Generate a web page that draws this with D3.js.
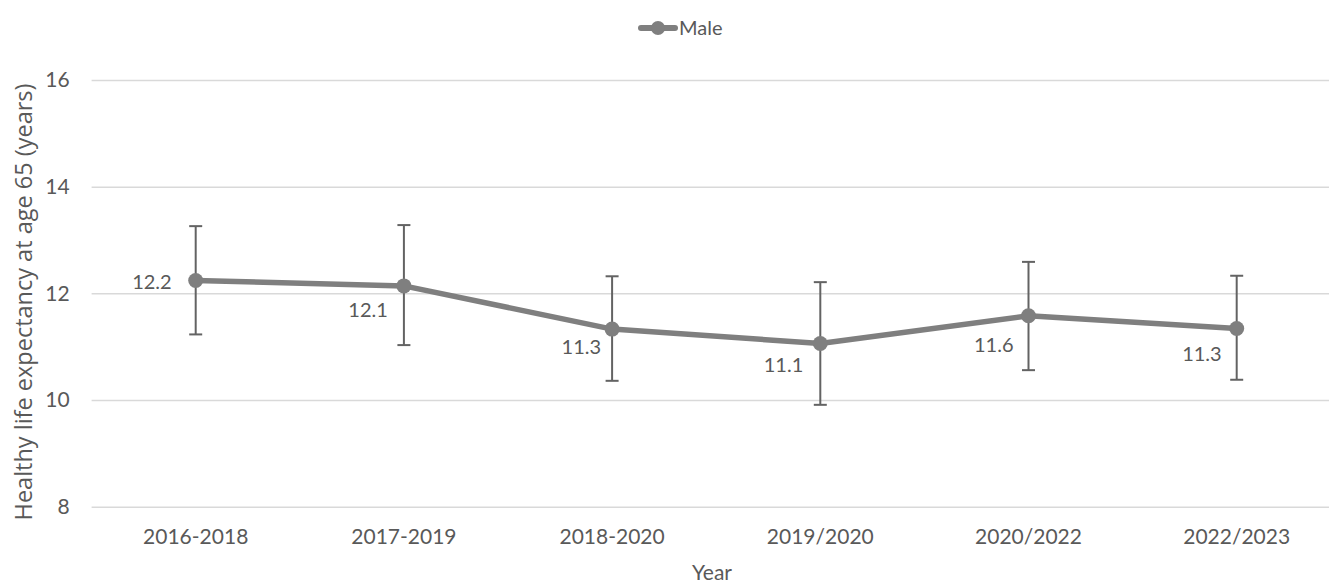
<!DOCTYPE html>
<html>
<head>
<meta charset="utf-8">
<script src="https://cdn.jsdelivr.net/npm/d3@7"></script>
<style>
  body { margin: 0; background: #fff; }
  svg text { fill: #595959; }
</style>
</head>
<body>
<div id="canvas"></div>
<script>
"use strict"

/* data */
let categories = ["2016-2018", "2017-2019", "2018-2020", "2019/2020", "2020/2022", "2022/2023"];
let maleValues = [12.24, 12.14, 11.33, 11.06, 11.58, 11.34];
let maleLower = [11.23, 11.03, 10.36, 9.91, 10.56, 10.38];
let maleUpper = [13.26, 13.28, 12.32, 12.21, 12.59, 12.33];
let yTicks = [8, 10, 12, 14, 16];

/* where each data label sits relative to its point */
let labelDx = [-24, -16, -11, -17, -15, -15];
let labelDy = [1, 24, 18, 22, 29, 25];

let drawing = d3.select("#canvas")
    .append("svg")
    .attr("width", 1329)
    .attr("height", 586);

let x = d3.scaleBand()
  .domain(categories)
  .range([91.6, 1340.8]);

let y = d3.scaleLinear()
  .domain([8, 16])
  .range([506.7, 80]);

let cx = d => x(d) + x.bandwidth() / 2;

/* gridlines + y tick labels */
let yAxis = drawing.append("g")
  .attr("transform", "translate(91.6,0)")
  .call(d3.axisLeft(y).tickValues(yTicks).tickSize(-1300).tickPadding(22));
yAxis.select(".domain").remove();
yAxis.selectAll("line")
  .attr("stroke", "#d9d9d9")
  .attr("stroke-width", 1.5);
yAxis.selectAll("text")
  .attr("font-family", "Lato")
  .attr("font-size", 21)
  .style("fill", "#595959");

/* x tick labels */
let xAxis = drawing.append("g")
  .attr("transform", "translate(0,506.7)")
  .call(d3.axisBottom(x).tickSize(0).tickPadding(22));
xAxis.select(".domain").remove();
xAxis.selectAll("text")
  .attr("font-family", "Lato")
  .attr("font-size", 21)
  .style("fill", "#595959");

/* axis titles */
drawing.append("text")
  .attr("transform", "translate(32,302) rotate(-90)")
  .attr("text-anchor", "middle")
  .attr("font-family", "Open Sans")
  .attr("font-size", 23.5)
  .text("Healthy life expectancy at age 65 (years)");

drawing.append("text")
  .attr("x", 712)
  .attr("y", 580)
  .attr("text-anchor", "middle")
  .attr("font-family", "Lato")
  .attr("font-size", 21)
  .text("Year");

/* error bars */
let bars = drawing.append("g");
categories.forEach((c, i) => {
  bars.append("line")
    .attr("x1", cx(c)).attr("x2", cx(c))
    .attr("y1", y(maleLower[i])).attr("y2", y(maleUpper[i]))
    .attr("stroke", "#636363").attr("stroke-width", 2);
  [maleLower[i], maleUpper[i]].forEach(v => {
    bars.append("line")
      .attr("x1", cx(c) - 6.5).attr("x2", cx(c) + 6.5)
      .attr("y1", y(v)).attr("y2", y(v))
      .attr("stroke", "#636363").attr("stroke-width", 2);
  });
});

/* the line */
let line = d3.line()
  .x((d, i) => cx(categories[i]))
  .y(d => y(d));

drawing.append("path")
  .datum(maleValues)
  .attr("d", line)
  .attr("fill", "none")
  .attr("stroke", "#7f7f7f")
  .attr("stroke-width", 5.5)
  .attr("stroke-linejoin", "round");

drawing.append("g").selectAll("circle")
  .data(maleValues)
  .join("circle")
  .attr("cx", (d, i) => cx(categories[i]))
  .attr("cy", d => y(d))
  .attr("r", 7.5)
  .attr("fill", "#7f7f7f");

/* data labels */
drawing.append("g").selectAll("text")
  .data(maleValues)
  .join("text")
  .attr("x", (d, i) => cx(categories[i]) + labelDx[i])
  .attr("y", (d, i) => y(d) + labelDy[i])
  .attr("dy", "0.35em")
  .attr("text-anchor", "end")
  .attr("font-family", "Lato")
  .attr("font-size", 20)
  .text(d => d3.format(".1f")(d));

/* legend */
let legend = drawing.append("g").attr("transform", "translate(641,28)");
legend.append("line")
  .attr("x1", 0).attr("x2", 34)
  .attr("y1", 0).attr("y2", 0)
  .attr("stroke", "#7f7f7f")
  .attr("stroke-width", 6)
  .attr("stroke-linecap", "round");
legend.append("circle")
  .attr("cx", 17).attr("cy", 0).attr("r", 7)
  .attr("fill", "#7f7f7f");
legend.append("text")
  .attr("x", 38).attr("y", 0)
  .attr("dy", "0.35em")
  .attr("font-family", "Lato")
  .attr("font-size", 20)
  .text("Male");
</script>
</body>
</html>
